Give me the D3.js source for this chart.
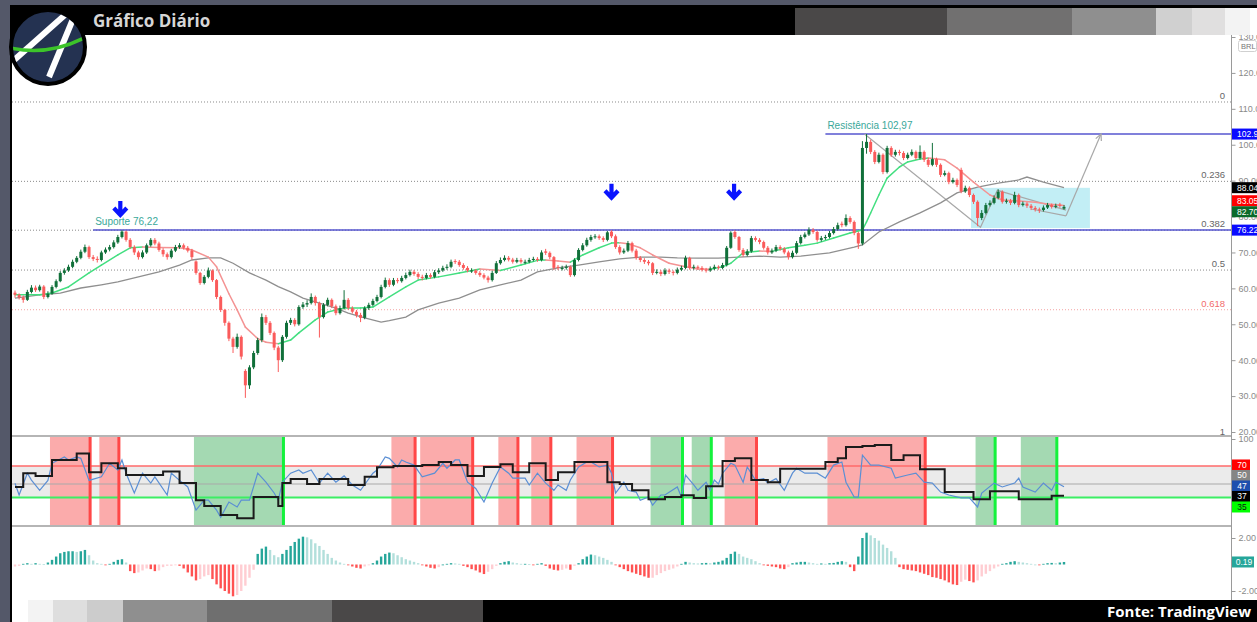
<!DOCTYPE html>
<html>
<head>
<meta charset="utf-8">
<script src="https://cdnjs.cloudflare.com/ajax/libs/d3/7.8.5/d3.min.js"></script>
<style>
  body { margin: 0; background: #545869; overflow: hidden; }
  svg { display: block; }
</style>
</head>
<body>
<script>
//daily candles (BRL)
var opens = [
  58.8,58.2,57.5,56.8,59.0,60.2,59.5,60.5,57.6,58.5,
  60.4,62.0,64.3,65.0,66.0,67.4,68.5,70.2,71.5,68.7,
  68.2,67.9,70.0,70.8,71.5,72.8,74.3,75.8,73.5,71.5,
  70.0,68.7,70.0,72.0,73.5,72.5,70.7,69.5,68.7,70.5,
  71.5,72.0,71.3,70.5,67.5,64.3,61.5,63.2,65.0,62.3,
  57.6,54.0,50.4,46.0,43.7,46.5,37.0,33.0,38.0,42.0,
  45.6,52.0,50.4,47.6,43.5,40.0,46.5,50.4,51.2,50.0,
  54.8,55.5,55.9,57.6,55.9,52.0,55.4,56.8,55.0,53.1,
  54.5,56.8,54.5,53.5,52.6,51.8,54.5,55.4,56.5,57.6,
  60.4,62.3,61.0,62.3,62.0,62.9,63.7,64.6,64.0,63.2,
  62.9,63.7,63.2,64.5,65.0,65.7,66.0,67.6,67.4,66.5,
  65.7,64.7,65.0,64.3,63.7,63.0,62.3,64.3,67.0,67.9,
  68.5,68.0,67.4,67.9,67.1,67.4,67.9,68.2,67.9,70.3,
  69.9,68.7,66.0,65.4,65.7,66.0,63.7,67.9,70.7,72.0,
  73.5,74.3,74.5,74.0,73.5,75.8,74.5,71.5,70.0,70.5,
  72.6,70.5,68.5,67.9,67.4,67.0,64.3,64.6,64.0,65.0,
  64.6,64.3,65.2,65.7,68.5,65.7,66.0,65.7,65.2,65.0,
  65.5,66.0,65.7,66.5,71.3,75.7,74.3,70.7,69.3,70.3,
  74.0,73.5,72.9,71.3,70.0,70.5,71.5,71.0,70.0,68.7,
  69.9,72.6,74.3,75.0,76.3,75.7,73.5,74.0,74.3,75.4,
  76.5,78.0,77.6,79.6,78.5,75.4,72.5,99.1,100.8,98.0,
  95.2,97.2,92.4,99.1,97.2,98.0,97.7,96.3,97.2,98.0,
  96.3,98.0,95.8,94.4,96.0,94.4,91.6,92.1,89.6,90.2,
  93.0,87.0,88.0,86.0,84.1,79.6,81.0,83.2,83.8,85.2,
  86.9,84.1,84.4,83.8,86.0,83.2,83.6,83.0,82.4,82.0,
  81.8,82.5,83.2,82.7,83.3,82.2
];
var highs = [
  59.4,58.6,58.0,59.6,60.9,60.8,61.0,60.9,59.2,60.9,
  62.5,64.8,65.6,66.6,68.0,69.0,70.8,72.2,71.9,69.3,
  68.9,70.5,71.4,72.1,73.4,74.9,76.2,76.1,74.0,72.0,
  70.5,70.6,72.5,74.0,74.0,73.0,71.2,70.0,71.0,72.1,
  72.6,72.5,71.8,71.0,67.8,64.6,63.7,65.8,65.3,62.6,
  58.0,54.3,50.8,46.5,47.4,46.9,37.5,38.6,42.6,46.2,
  53.0,52.6,50.9,48.0,44.0,47.0,51.0,51.8,51.7,55.3,
  56.2,56.7,58.6,58.0,56.3,55.9,57.4,57.2,55.5,55.2,
  59.5,57.3,55.0,54.0,53.2,55.0,56.0,57.1,58.2,61.0,
  63.0,62.8,62.9,62.9,63.5,64.4,65.2,65.1,64.5,63.8,
  64.3,64.2,65.1,65.6,66.3,66.7,68.0,68.1,67.9,67.0,
  66.2,65.6,65.4,64.8,64.2,63.5,64.9,67.6,68.6,69.2,
  69.0,68.5,68.5,68.4,68.0,68.5,68.8,68.7,70.6,71.0,
  70.3,69.0,66.5,66.3,66.6,66.4,68.4,71.2,72.6,74.1,
  74.9,75.1,75.0,74.5,76.0,76.2,75.0,72.0,71.1,73.2,
  73.0,71.0,69.0,68.4,67.9,67.3,65.3,65.1,65.6,65.5,
  65.0,65.8,66.3,69.1,68.8,66.6,66.4,66.2,65.7,66.1,
  66.6,66.4,67.1,71.8,75.9,76.2,74.6,71.2,70.9,74.6,
  74.5,74.0,73.3,71.8,71.1,72.1,72.0,71.5,70.5,70.5,
  73.2,74.9,75.6,77.0,76.8,76.1,74.6,74.9,76.0,77.1,
  78.3,78.6,80.6,80.1,78.9,75.8,101.0,102.97,101.4,98.5,
  97.8,97.6,99.7,99.6,98.6,98.6,98.2,97.8,98.7,98.4,
  99.8,98.4,96.3,100.5,96.4,94.8,92.8,92.5,90.8,90.6,
  93.6,88.6,88.4,86.4,84.5,81.8,83.8,84.5,85.9,87.6,
  87.3,85.0,84.9,86.9,86.4,84.2,84.0,83.5,82.9,82.5,
  83.1,83.8,83.6,83.6,83.8,83.2
];
var lows = [
  57.4,56.9,56.0,56.5,58.6,59.0,59.1,57.0,57.2,58.2,
  60.0,61.7,63.8,64.6,65.6,67.0,68.1,69.8,68.2,67.6,
  67.2,67.5,69.6,70.3,71.1,72.4,73.9,73.0,71.0,69.3,
  68.0,68.3,69.6,71.6,72.0,70.2,68.8,68.0,68.3,70.1,
  71.0,70.8,70.0,68.0,63.8,61.0,61.1,62.8,61.8,57.0,
  53.4,49.6,45.3,42.0,43.2,40.2,29.5,32.0,37.5,41.5,
  45.0,49.8,47.0,42.8,36.7,39.5,46.0,49.8,49.4,49.6,
  54.3,54.8,55.5,55.2,46.3,51.6,55.0,54.5,52.5,52.7,
  54.1,54.0,53.0,51.9,50.6,51.4,54.0,55.0,56.1,57.2,
  60.0,60.4,60.6,61.4,61.6,62.5,63.3,63.5,62.6,62.2,
  62.5,62.7,62.8,64.0,64.6,65.2,65.6,66.8,66.0,65.2,
  64.5,64.3,63.8,63.2,62.5,61.6,61.9,64.0,66.6,67.5,
  67.5,66.9,67.0,66.9,66.7,67.0,67.5,67.4,67.5,69.3,
  68.1,65.1,65.1,65.0,65.2,63.2,63.3,67.5,70.3,71.6,
  73.0,73.8,73.5,72.9,73.1,74.0,71.0,69.4,69.6,70.1,
  70.0,68.0,67.3,66.8,66.4,63.7,63.9,63.4,63.6,64.0,
  63.6,63.9,64.8,65.3,65.2,65.2,65.2,64.7,64.4,64.6,
  65.1,65.2,65.3,66.1,71.0,73.8,70.2,68.8,68.9,69.9,
  73.0,72.3,70.8,69.4,69.6,70.1,70.5,69.5,68.0,68.3,
  69.5,72.2,73.9,74.6,75.2,73.0,73.0,73.5,73.9,75.0,
  76.1,77.0,77.2,78.0,74.8,71.0,72.0,97.5,97.4,94.6,
  94.8,91.8,92.0,96.6,96.7,97.0,95.7,95.9,96.8,95.8,
  95.9,95.2,93.8,94.0,93.8,91.0,91.2,89.0,89.2,88.2,
  86.5,86.6,85.4,83.5,77.3,79.0,80.6,82.8,83.4,84.8,
  83.6,83.6,83.2,83.4,82.6,82.8,82.4,81.8,81.4,81.0,
  81.4,82.1,82.2,82.3,82.5,81.9
];
var closes = [
  58.2,57.5,56.8,59.0,60.2,59.5,60.5,57.6,58.5,60.4,
  62.0,64.3,65.0,66.0,67.4,68.5,70.2,71.5,68.7,68.2,
  67.9,70.0,70.8,71.5,72.8,74.3,75.8,73.5,71.5,70.0,
  68.7,70.0,72.0,73.5,72.5,70.7,69.5,68.7,70.5,71.5,
  72.0,71.3,70.5,68.7,64.3,61.5,63.2,65.0,62.3,57.6,
  54.0,50.4,46.0,43.7,46.5,41.0,33.0,38.0,42.0,45.6,
  52.0,50.4,47.6,43.5,40.0,46.5,50.4,51.2,50.0,54.8,
  55.5,55.9,57.6,55.9,52.0,55.4,56.8,55.0,53.1,54.5,
  56.8,54.5,53.5,52.6,51.8,54.5,55.4,56.5,57.6,60.4,
  62.3,61.0,62.3,62.0,62.9,63.7,64.6,64.0,63.2,62.9,
  63.7,63.2,64.5,65.0,65.7,66.0,67.4,67.4,66.5,65.7,
  65.0,65.0,64.3,63.7,63.0,62.3,64.3,67.0,67.9,68.5,
  68.0,67.4,67.9,67.4,67.4,67.9,68.2,67.9,70.0,69.9,
  68.7,65.7,65.7,65.7,66.0,63.7,67.9,70.7,72.0,73.5,
  74.3,74.5,74.0,73.5,75.6,74.5,71.5,70.0,70.5,72.6,
  70.5,68.5,67.9,67.4,67.0,64.3,64.6,64.0,65.0,64.6,
  64.3,65.2,65.7,68.5,65.7,66.0,65.7,65.2,65.0,65.5,
  66.0,65.7,66.5,71.3,75.5,74.3,70.7,69.3,70.3,74.0,
  73.5,72.9,71.3,70.0,70.5,71.5,71.0,70.0,68.7,69.9,
  72.6,74.3,75.0,76.3,75.7,73.5,74.0,74.3,75.4,76.5,
  77.6,77.6,79.6,78.5,75.4,72.5,99.1,100.8,98.0,95.2,
  97.2,92.4,99.1,97.2,98.0,97.7,96.3,97.2,98.0,96.3,
  98.0,95.8,94.4,96.0,94.4,91.6,92.1,89.6,90.2,88.8,
  87.0,88.0,86.0,84.1,79.6,81.0,83.2,83.8,85.2,86.9,
  84.1,84.4,83.8,86.0,83.2,83.6,83.0,82.4,82.0,81.8,
  82.5,83.2,82.7,83.0,83.0,82.7
];

//short moving average [candle, value], green when rising, red when falling
var maFast = [
  [0,58.2],[6,58.2],[9,58.7],[13,60.4],[18,64.3],[21,66.5],[25,69.3],[28,71.3],[31,71.5],[35,71.4],
  [40,71.3],[43,70.7],[47,68.7],[49,66.0],[52,58.5],[54,54.0],[56,49.2],[59,46.0],[61,45.0],[64,44.6],
  [67,45.6],[69,47.6],[73,51.2],[76,53.4],[80,54.5],[84,54.5],[87,54.8],[91,57.6],[95,60.4],[98,62.3],
  [103,63.2],[108,64.3],[113,65.4],[118,65.0],[123,66.5],[127,67.8],[129,67.9],[132,67.6],[135,67.3],[138,69.3],
  [142,71.3],[145,72.6],[147,72.7],[149,72.4],[152,71.3],[155,69.3],[159,67.0],[163,66.0],[166,65.4],[169,65.3],
  [172,66.0],[174,67.0],[177,69.9],[181,70.4],[184,70.3],[188,71.3],[192,72.0],[195,72.6],[199,74.0],[203,75.4],
  [205,76.0],[206,76.3],[207,78.5],[208,81.0],[210,86.0],[212,90.7],[215,93.8],[217,95.2],[220,96.0],[222,96.3],
  [226,95.8],[229,93.5],[233,89.6],[237,86.0],[240,84.6],[244,84.3],[248,84.0],[251,83.5],[255,83.05]
];
//long moving average (grey)
var maSlow = [
  [0,57.3],[6,58.2],[11,58.7],[16,60.1],[21,61.0],[25,61.8],[30,63.2],[35,64.6],[40,66.5],[43,67.9],
  [47,68.5],[50,68.5],[53,67.0],[57,64.3],[61,62.3],[64,60.5],[67,59.0],[70,57.3],[74,55.9],[78,54.5],
  [81,53.1],[85,51.8],[89,50.6],[91,51.0],[95,52.0],[98,54.0],[103,55.9],[108,57.3],[113,59.6],[118,61.0],
  [123,62.3],[127,64.6],[132,65.7],[137,66.5],[142,67.4],[147,68.2],[152,68.7],[157,68.7],[161,68.5],[166,68.4],
  [171,68.4],[176,68.7],[181,69.0],[186,68.7],[191,69.0],[198,69.9],[204,71.5],[206,72.1],[210,75.7],[215,78.5],
  [220,81.0],[225,83.8],[229,86.6],[234,88.2],[239,89.3],[244,90.2],[246,91.0],[250,89.6],[255,88.04]
];

//RSI (blue) [candle, value]
var rsi = [
  [0,50.8],[1,37.8],[3,62],[4,54.4],[6,43],[8,54],[9,73],[12,80],[13,76.7],[15,80],
  [16,78.5],[18,54],[21,58],[23,73],[25,65.5],[26,76.7],[27,62],[29,40],[31,62],[33,51],
  [34,58],[37,37.8],[38,62],[40,54],[42,46.7],[44,21],[46,32],[47,32],[49,21],[50,13],
  [52,30],[54,24.5],[55,32],[57,32],[59,62],[61,52],[63,40],[64,32],[65,52],[67,62],
  [69,65.5],[70,62],[72,65.5],[74,51],[76,62],[78,52],[80,59],[82,48.9],[84,43],[87,62],
  [88,65.5],[90,80],[91,78.5],[93,69],[94,76.7],[95,74.5],[97,71],[99,58],[102,62],[104,73],
  [105,67.5],[107,76.7],[108,76.7],[110,52],[112,45],[114,30],[116,51],[118,69],[120,62],[121,56.5],
  [124,56.5],[125,48.9],[127,62],[129,51],[131,43],[132,48.9],[134,43],[135,54.4],[137,69],[139,74.5],
  [140,74.5],[142,69],[144,71],[145,62],[146,40],[148,52],[149,43],[151,41],[152,32],[154,35.5],
  [155,26.5],[157,37.8],[158,37.8],[161,46.7],[162,35.5],[163,60],[165,48.9],[166,43],[168,52],[169,43],
  [170,54.4],[171,50],[172,62],[174,73],[175,71],[177,52],[178,69],[180,54.4],[182,56],[183,51],
  [185,56],[187,43],[189,62],[190,67.5],[192,62],[195,62],[197,56.5],[199,71],[201,74.5],[202,52],
  [204,35.5],[205,35.5],[206,82],[208,71],[210,71],[213,67.5],[214,56.5],[217,60],[219,62],[221,52],
  [223,51],[225,41],[227,37.8],[230,34.5],[232,34.5],[234,24.5],[235,40],[238,51],[240,46.7],[243,51],
  [244,56.5],[245,46.7],[248,41],[250,51],[252,43],[253,52],[255,47]
];
//black stepped line [first candle, level]
var rsiSteps = [
  [0,46.7],[2,62],[5,59],[9,76.7],[15,84],[18,63],[21,73],[25,67.5],[27,60],[36,64],
  [40,51],[44,32],[46,25.5],[50,15.5],[54,12],[58,35.5],[64,25.5],[65,51],[67,55.5],[71,50],
  [74,55.5],[81,48.9],[85,58],[88,68.5],[92,70],[99,71],[103,74.5],[106,71],[110,59],[114,69],
  [118,72],[121,63],[125,73],[129,54.4],[132,63],[136,74.5],[144,52],[147,50],[150,43],[154,33],
  [158,35.5],[162,37.5],[165,34.5],[168,47.5],[172,75.5],[175,78.5],[179,54.4],[183,52],[186,67],[197,74.5],
  [200,78.5],[202,91],[206,92.2],[209,93.3],[213,76.7],[216,82],[220,66.5],[226,41],[233,33],[237,42],
  [244,33],[252,37],[255,37]
];
//shaded signal zones [first candle, last candle]
var redZones = [[9,18],[21,25],[92,97],[99,111],[118,122],[126,130],[137,145],[173,180],[198,221]];
var greenZones = [[44,65],[155,162],[165,169],[234,238],[245,253]];

//histogram, one bar per candle
var hist = [
  -0.15,-0.1,0.05,0.1,0.05,0.1,0.05,0.02,0.15,0.35,
  0.6,0.85,0.95,1.0,1.0,0.95,1.0,1.1,0.7,0.3,
  0.1,0.05,-0.05,0.05,0.2,0.35,0.4,0.15,-0.5,-0.65,
  -0.6,-0.45,-0.3,-0.35,-0.5,-0.45,-0.2,-0.1,-0.1,-0.05,
  -0.1,-0.3,-0.6,-0.9,-1.2,-1.1,-0.9,-0.8,-1.1,-1.5,
  -1.8,-2.0,-2.2,-2.4,-2.3,-2.0,-1.6,-1.0,-0.4,0.8,
  1.2,1.35,1.1,0.7,0.55,0.8,1.1,1.4,1.7,1.95,
  2.1,2.05,1.9,1.6,1.4,1.1,0.8,0.5,0.3,0.15,
  0.05,-0.05,-0.15,-0.25,-0.3,-0.15,-0.05,0.1,0.3,0.6,
  0.8,0.9,0.85,0.7,0.55,0.4,0.3,0.2,0.1,-0.05,
  -0.15,-0.25,-0.3,-0.2,0.0,0.05,0.1,0.08,0.05,-0.1,
  -0.2,-0.35,-0.45,-0.6,-0.72,-0.55,-0.35,-0.1,0.1,0.2,
  0.25,0.15,0.1,0.05,0.05,0.02,-0.05,0.05,0.1,-0.1,
  -0.3,-0.4,-0.45,-0.4,-0.3,-0.4,-0.1,0.1,0.4,0.6,
  0.75,0.7,0.6,0.5,0.35,0.2,-0.05,-0.2,-0.35,-0.5,
  -0.6,-0.7,-0.8,-0.9,-1.0,-1.0,-0.8,-0.65,-0.5,-0.4,
  -0.3,-0.15,0.05,0.2,0.15,0.1,0.08,0.1,0.12,0.1,
  0.15,0.2,0.3,0.5,0.8,0.97,0.8,0.6,0.5,0.4,
  0.25,0.1,-0.05,-0.1,-0.15,-0.2,-0.3,-0.35,-0.2,0.1,
  0.15,0.2,0.2,0.15,0.1,0.05,0.08,0.05,0.1,0.12,
  0.2,0.25,0.2,-0.2,-0.5,0.6,2.0,2.4,2.2,2.0,
  1.8,1.5,1.25,1.0,0.5,-0.2,-0.35,-0.4,-0.45,-0.5,
  -0.6,-0.7,-0.8,-0.95,-1.0,-1.1,-1.2,-1.35,-1.5,-1.55,
  -1.3,-1.15,-1.25,-1.35,-1.2,-0.9,-0.7,-0.5,-0.3,-0.15,
  0.05,0.1,0.2,0.25,0.2,0.15,0.1,0.05,0.0,-0.05,
  0.05,0.1,0.12,0.1,0.15,0.19
];

//fibonacci retracement
var fibLabels = ["0", "0.236", "0.382", "0.5", "0.618", "1"];
var fibPrices = [111.9, 89.8, 76.2, 65.1, 54.05, 18.3];

//support / resistance
var levelValues = [76.22, 102.97];
var levelStart = [19, 197];
var levelNames = ["Suporte 76,22", "Resistência 102,97"];

//down arrows over the tops
var arrowCandles = [25.6, 145, 174.8];
var arrowPrices = [82.1, 86.9, 86.9];

//drawing on the right side
var boxCandles = [232.4, 261.3];
var boxPrices = [76.8, 88.0];
var zigzag = [[206.5,102.97],[234.7,77.0],[238.8,87.3],[255.5,81.8]];
var channel = [[247,82.1],[255.5,80.2]];
var projection = [[255.5,80.2],[264,102.97]];

//price ticks
var priceTicks = [20,30,40,50,60,70,80,90,100,110,120,130];

var W = 1257, H = 622;

//scales
var x = d3.scaleLinear().domain([0, 255]).range([15, 1064]);
var y = d3.scaleLinear().domain([20, 130]).range([432, 37]);
var yRsi = d3.scaleLinear().domain([0, 100]).range([529, 439]);
var yHist = d3.scaleLinear().domain([-2, 2]).range([591, 538]);

var svg = d3.select("body").append("svg")
    .attr("width", W)
    .attr("height", H)
    .style("font-family", "'Liberation Sans', Arial, sans-serif");

//frame
svg.append("rect").attr("width", W).attr("height", H).attr("fill", "#545869");
svg.append("rect").attr("x", 10).attr("y", 5).attr("width", W - 10).attr("height", H - 5).attr("fill", "#000");
svg.append("rect").attr("x", 12).attr("y", 35).attr("width", W - 12).attr("height", 565).attr("fill", "#fff");

//clip areas for the three panes
var defs = svg.append("defs");
defs.append("clipPath").attr("id", "clipMain").append("rect")
    .attr("x", 12).attr("y", 35).attr("width", 1219).attr("height", 401);
defs.append("clipPath").attr("id", "clipRsi").append("rect")
    .attr("x", 12).attr("y", 437).attr("width", 1219).attr("height", 88);
defs.append("clipPath").attr("id", "clipHist").append("rect")
    .attr("x", 12).attr("y", 527).attr("width", 1219).attr("height", 73);

var main = svg.append("g").attr("clip-path", "url(#clipMain)");

//fibonacci lines
fibPrices.forEach(function (p, k) {
    var red = fibLabels[k] === "0.618";
    main.append("line")
        .attr("x1", 12).attr("x2", 1231)
        .attr("y1", y(p)).attr("y2", y(p))
        .attr("stroke", red ? "#f4a3a3" : "#8a8a8a")
        .attr("stroke-width", 1)
        .attr("stroke-dasharray", "1,2");
    svg.append("text")
        .attr("x", 1225).attr("y", y(p) - 3)
        .attr("text-anchor", "end")
        .attr("font-size", 9.5)
        .attr("fill", red ? "#f26b6b" : "#666")
        .text(fibLabels[k]);
});

//cyan box
main.append("rect")
    .attr("x", x(boxCandles[0])).attr("width", x(boxCandles[1]) - x(boxCandles[0]))
    .attr("y", y(boxPrices[1])).attr("height", y(boxPrices[0]) - y(boxPrices[1]))
    .attr("fill", "#c2eef5");

//support and resistance
levelValues.forEach(function (v, k) {
    main.append("line")
        .attr("x1", x(levelStart[k])).attr("x2", 1231)
        .attr("y1", y(v)).attr("y2", y(v))
        .attr("stroke", "#5656cf").attr("stroke-width", 1.5);
    main.append("text")
        .attr("x", x(levelStart[k]) + 2).attr("y", y(v) - 5)
        .attr("font-size", 10)
        .attr("fill", "#3aa89a")
        .text(levelNames[k]);
});

//zigzag drawing
var pline = d3.line().x(function (d) { return x(d[0]); }).y(function (d) { return y(d[1]); });
[zigzag, channel, projection].forEach(function (pts) {
    main.append("path").attr("d", pline(pts))
        .attr("fill", "none").attr("stroke", "#a8a8a8").attr("stroke-width", 1.2);
});
//arrow head on the projection
(function () {
    var a = projection[0], b = projection[1];
    var x1 = x(a[0]), y1 = y(a[1]), x2 = x(b[0]), y2 = y(b[1]);
    var ang = Math.atan2(y2 - y1, x2 - x1);
    var len = 7;
    var p1 = [x2 - len * Math.cos(ang - 0.45), y2 - len * Math.sin(ang - 0.45)];
    var p2 = [x2 - len * Math.cos(ang + 0.45), y2 - len * Math.sin(ang + 0.45)];
    main.append("path")
        .attr("d", "M" + p1 + "L" + x2 + "," + y2 + "L" + p2)
        .attr("fill", "none").attr("stroke", "#a8a8a8").attr("stroke-width", 1.2);
})();

//moving averages
main.append("path").attr("d", pline(maSlow))
    .attr("fill", "none").attr("stroke", "#8f8f8f").attr("stroke-width", 1.3);
for (var k = 1; k < maFast.length; k++) {
    var up = maFast[k][1] >= maFast[k - 1][1];
    main.append("path").attr("d", pline([maFast[k - 1], maFast[k]]))
        .attr("fill", "none")
        .attr("stroke", up ? "#43df80" : "#f49393")
        .attr("stroke-width", 1.5)
        .attr("stroke-linecap", "round");
}

//candles
var candles = d3.range(closes.length).map(function (i) {
    return {i: i, o: opens[i], h: highs[i], l: lows[i], c: closes[i]};
});
var candleColor = function (d) { return d.c >= d.o ? "#11703a" : "#fa5b5b"; };
main.selectAll(".wick").data(candles).enter().append("line")
    .attr("x1", function (d) { return x(d.i); })
    .attr("x2", function (d) { return x(d.i); })
    .attr("y1", function (d) { return y(d.h); })
    .attr("y2", function (d) { return y(d.l); })
    .attr("stroke", candleColor)
    .attr("stroke-width", 1);
main.selectAll(".body").data(candles).enter().append("rect")
    .attr("x", function (d) { return x(d.i) - 1.5; })
    .attr("width", 3)
    .attr("y", function (d) { return y(Math.max(d.o, d.c)); })
    .attr("height", function (d) { return Math.max(1, Math.abs(y(d.o) - y(d.c))); })
    .attr("fill", candleColor);

//blue arrows
arrowCandles.forEach(function (c, k) {
    var ax = x(c), ay = y(arrowPrices[k]);
    main.append("path")
        .attr("d", "M" + ax + "," + (ay - 8) + "L" + ax + "," + (ay + 5) +
                   "M" + (ax - 6.5) + "," + (ay - 1) + "L" + ax + "," + (ay + 6) + "L" + (ax + 6.5) + "," + (ay - 1))
        .attr("fill", "none").attr("stroke", "#0a14ff").attr("stroke-width", 4.2);
});

//RSI pane
var rsiG = svg.append("g").attr("clip-path", "url(#clipRsi)");
rsiG.append("rect")
    .attr("x", 12).attr("width", 1219)
    .attr("y", yRsi(70)).attr("height", yRsi(35) - yRsi(70))
    .attr("fill", "#ebebeb");
var half = (x(1) - x(0)) / 2;
redZones.forEach(function (z) {
    rsiG.append("rect").attr("x", x(z[0]) - half).attr("width", x(z[1]) - x(z[0]) + 2 * half)
        .attr("y", 437).attr("height", 88).attr("fill", "#fbabab");
});
greenZones.forEach(function (z) {
    rsiG.append("rect").attr("x", x(z[0]) - half).attr("width", x(z[1]) - x(z[0]) + 2 * half)
        .attr("y", 437).attr("height", 88).attr("fill", "#a4d9b2");
});
[[70, "#ff6a6a", 1.5], [50, "#a9a9a9", 1], [35, "#3cee64", 2]].forEach(function (h) {
    rsiG.append("line").attr("x1", 12).attr("x2", 1231)
        .attr("y1", yRsi(h[0])).attr("y2", yRsi(h[0]))
        .attr("stroke", h[1]).attr("stroke-width", h[2]);
});
redZones.forEach(function (z) {
    rsiG.append("line").attr("x1", x(z[1]) + half - 1).attr("x2", x(z[1]) + half - 1)
        .attr("y1", 437).attr("y2", 525).attr("stroke", "#ff4747").attr("stroke-width", 3);
});
greenZones.forEach(function (z) {
    rsiG.append("line").attr("x1", x(z[1]) + half - 1).attr("x2", x(z[1]) + half - 1)
        .attr("y1", 437).attr("y2", 525).attr("stroke", "#14f23c").attr("stroke-width", 3);
});
rsiG.append("path")
    .attr("d", d3.line().x(function (d) { return x(d[0]); }).y(function (d) { return yRsi(d[1]); })(rsi))
    .attr("fill", "none").attr("stroke", "#5b8fd4").attr("stroke-width", 1.2);
rsiG.append("path")
    .attr("d", d3.line().curve(d3.curveStepAfter)
        .x(function (d) { return x(d[0]); }).y(function (d) { return yRsi(d[1]); })(rsiSteps))
    .attr("fill", "none").attr("stroke", "#1b1b1b").attr("stroke-width", 2);

//histogram pane
var histG = svg.append("g").attr("clip-path", "url(#clipHist)");
histG.selectAll(".bar").data(hist).enter().append("rect")
    .attr("x", function (d, i) { return x(i) - 1.2; })
    .attr("width", 2.4)
    .attr("y", function (d) { return Math.min(yHist(d), yHist(0)); })
    .attr("height", function (d) { return Math.max(0.8, Math.abs(yHist(d) - yHist(0))); })
    .attr("fill", function (d, i) {
        var prev = i > 0 ? hist[i - 1] : d;
        if (d >= 0) return d >= prev ? "#26a69a" : "#b2dfdb";
        return d < prev ? "#ff5252" : "#ffcdd2";
    });

//pane separators
[436, 526].forEach(function (sy) {
    svg.append("line").attr("x1", 12).attr("x2", 1231).attr("y1", sy).attr("y2", sy)
        .attr("stroke", "#b5b5b5").attr("stroke-width", 2);
});

//right axes
svg.append("line").attr("x1", 1231.5).attr("x2", 1231.5).attr("y1", 35).attr("y2", 600)
    .attr("stroke", "#9a9a9a").attr("stroke-width", 1);
var styleAxis = function (g) {
    g.select(".domain").remove();
    g.selectAll(".tick line").attr("stroke", "#9a9a9a");
    g.selectAll(".tick text").attr("fill", "#8a8a8a").attr("font-size", 9)
        .attr("font-family", "'Liberation Sans', Arial, sans-serif");
};
svg.append("g").attr("transform", "translate(1231.5,0)")
    .call(d3.axisRight(y).tickValues(priceTicks).tickSize(4).tickPadding(3)
        .tickFormat(function (d) { return d.toFixed(2); }))
    .call(styleAxis);
svg.append("g").attr("transform", "translate(1231.5,0)")
    .call(d3.axisRight(yRsi).tickValues([100]).tickSize(4).tickPadding(3))
    .call(styleAxis);
svg.append("g").attr("transform", "translate(1231.5,0)")
    .call(d3.axisRight(yHist).tickValues([2, -2]).tickSize(4).tickPadding(3)
        .tickFormat(function (d) { return d.toFixed(2); }))
    .call(styleAxis);

//value tags on the axis, pushed apart when they overlap
function spread(items, gap) {
    items.sort(function (a, b) { return a.y - b.y; });
    for (var n = 0; n < 60; n++) {
        for (var j = 1; j < items.length; j++) {
            var d = items[j].y - items[j - 1].y;
            if (d < gap) { var s = (gap - d) / 2; items[j].y += s; items[j - 1].y -= s; }
        }
    }
    return items;
}
function drawTags(items, w) {
    items.forEach(function (t) {
        svg.append("rect").attr("x", 1232).attr("y", t.y - 5.5).attr("width", w).attr("height", 11)
            .attr("fill", t.bg);
        svg.append("text").attr("x", w > 25 ? 1237 : 1232 + w / 2 + 1).attr("y", t.y + 3)
            .attr("text-anchor", w > 25 ? "start" : "middle")
            .attr("font-size", 8.5).attr("fill", t.fg || "#fff").text(t.text);
    });
}
var priceTags = [
    {v: 102.97, text: "102.97", bg: "#0a0aff"},
    {v: 88.04, text: "88.04", bg: "#000"},
    {v: 83.05, text: "83.05", bg: "#ff0000"},
    {v: 82.70, text: "82.70", bg: "#0b6a2a"},
    {v: 76.22, text: "76.22", bg: "#0a0aff"}
];
priceTags.forEach(function (t) { t.y = y(t.v); });
drawTags(spread(priceTags, 11), 30);
var rsiTags = [
    {v: 70, text: "70", bg: "#ff0000"},
    {v: 50, text: "50", bg: "#858585"},
    {v: 47, text: "47", bg: "#1d4fae"},
    {v: 37, text: "37", bg: "#000"},
    {v: 35, text: "35", bg: "#00ff00", fg: "#111"}
];
rsiTags.forEach(function (t) { t.y = yRsi(t.v); });
drawTags(spread(rsiTags, 10.5), 18);
var histTags = [{v: 0.19, text: "0.19", bg: "#26a69a"}];
histTags.forEach(function (t) { t.y = yHist(t.v); });
drawTags(histTags, 22);

//currency badge
svg.append("rect").attr("x", 1238.5).attr("y", 40.5).attr("width", 18).attr("height", 11).attr("rx", 2)
    .attr("fill", "#fff").attr("stroke", "#d0d0d0");
svg.append("text").attr("x", 1241).attr("y", 49).attr("font-size", 7.5).attr("fill", "#777").text("BRL");

//top bar
svg.append("rect").attr("x", 10).attr("y", 5).attr("width", W - 10).attr("height", 30).attr("fill", "#000");
var topBlocks = [[795, 947, "#4a4848"], [947, 1072, "#717070"], [1072, 1156, "#8f8f8f"],
                 [1156, 1192, "#d0d0d0"], [1192, 1225, "#e0dfdf"], [1225, 1250, "#f3f3f3"], [1250, 1257, "#ffffff"]];
topBlocks.forEach(function (b) {
    svg.append("rect").attr("x", b[0]).attr("y", 8).attr("width", b[1] - b[0]).attr("height", 27).attr("fill", b[2]);
});
svg.append("text").attr("x", 93).attr("y", 27)
    .attr("font-family", "'Open Sans', sans-serif").attr("font-weight", 700).attr("font-size", 17)
    .attr("fill", "#d6d6d6").text("Gráfico Diário");

//bottom bar
var bottomBlocks = [[12, 28, "#ffffff"], [28, 53, "#f3f3f3"], [53, 87, "#dedede"], [87, 123, "#cccccc"],
                    [123, 207, "#8f8f8f"], [207, 332, "#6f6f6f"], [332, 483, "#4a4848"]];
bottomBlocks.forEach(function (b) {
    svg.append("rect").attr("x", b[0]).attr("y", 600).attr("width", b[1] - b[0]).attr("height", 22).attr("fill", b[2]);
});
svg.append("text").attr("x", 1251).attr("y", 617).attr("text-anchor", "end")
    .attr("font-family", "'Open Sans', sans-serif").attr("font-weight", 700).attr("font-size", 15)
    .attr("fill", "#fff").text("Fonte: TradingView");

//logo
var logo = svg.append("g").attr("transform", "translate(48,47)");
defs.append("clipPath").attr("id", "clipLogo").append("circle").attr("r", 35);
logo.append("circle").attr("r", 37).attr("fill", "#243251").attr("stroke", "#000").attr("stroke-width", 4);
var inner = logo.append("g").attr("clip-path", "url(#clipLogo)");
inner.append("line").attr("x1", -36).attr("y1", 15).attr("x2", 18).attr("y2", -33)
    .attr("stroke", "#fff").attr("stroke-width", 6);
inner.append("line").attr("x1", 1).attr("y1", 30).attr("x2", 25).attr("y2", -28)
    .attr("stroke", "#fff").attr("stroke-width", 6);
inner.append("path").attr("d", "M-37,1 Q0,9 36,-9")
    .attr("fill", "none").attr("stroke", "#3cc42a").attr("stroke-width", 3.5);
</script>
</body>
</html>
